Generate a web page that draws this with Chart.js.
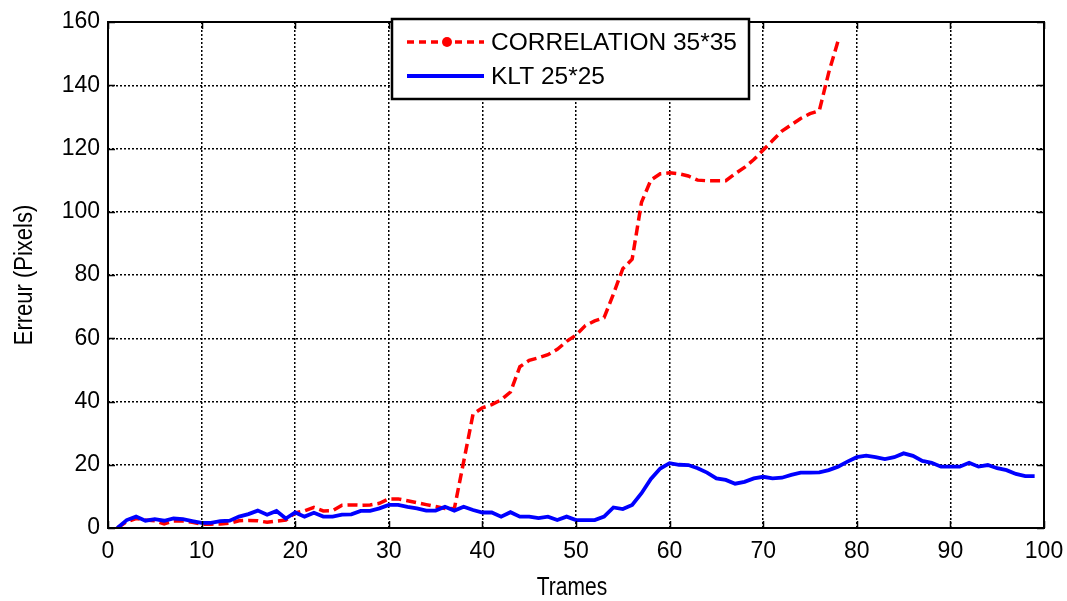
<!DOCTYPE html>
<html>
<head>
<meta charset="utf-8">
<script src="https://cdn.jsdelivr.net/npm/chart.js@4.4.1/dist/chart.umd.min.js"></script>
<style>
  html, body { margin: 0; padding: 0; background: #ffffff; }
  #wrap { width: 1067px; height: 601px; }
</style>
</head>
<body>
<div id="wrap"><canvas id="c" width="1067" height="601"></canvas></div>
<script>
// ---------- DATA ----------
const framesCorrelation = [1,2,3,4,5,6,7,8,9,10,11,12,13,14,15,16,17,18,19,20,
  21,22,23,24,25,26,27,28,29,30,31,32,33,34,35,36,37,38,39,40,
  41,42,43,44,45,46,47,48,49,50,51,52,53,54,55,56,57,58,59,60,
  61,62,63,64,65,66,67,68,69,70,71,72,73,74,75,76,77,78];
const correlationError = [0,2,3,2.5,2.3,1.3,2.2,2.2,1.8,1.2,
  1.2,1.3,1.5,2.3,2.4,2.3,1.8,2.2,2.5,4.8,
  5.4,6.5,5.4,5.5,7.2,7.3,7.2,7.3,7.8,9.2,
  9.2,8.6,8.0,7.4,6.8,6.2,6.1,21,36,38,
  39,40.5,43,51,53,53.8,54.8,56.5,59,61,
  64,65.5,66.5,74,82,85,103,110,112,112.3,
  112,111.3,110,109.8,109.8,109.8,112,114,116.5,119.5,
  122.5,125.5,127.5,129.5,131,132,144,154];

const framesKLT = [1,2,3,4,5,6,7,8,9,10,11,12,13,14,15,16,17,18,19,20,
  21,22,23,24,25,26,27,28,29,30,31,32,33,34,35,36,37,38,39,40,
  41,42,43,44,45,46,47,48,49,50,51,52,53,54,55,56,57,58,59,60,
  61,62,63,64,65,66,67,68,69,70,71,72,73,74,75,76,77,78,79,80,
  81,82,83,84,85,86,87,88,89,90,91,92,93,94,95,96,97,98,99];
const kltError = [0,2.5,3.6,2.3,2.8,2.3,3.0,2.8,2.2,1.6,
  1.6,2.2,2.3,3.6,4.4,5.5,4.2,5.4,3.0,4.9,
  3.6,4.8,3.6,3.6,4.2,4.3,5.4,5.4,6.2,7.3,
  7.3,6.7,6.2,5.5,5.5,6.7,5.5,6.7,5.7,4.9,
  4.9,3.6,5.0,3.6,3.6,3.1,3.6,2.5,3.6,2.5,
  2.5,2.5,3.6,6.5,6.0,7.3,11,15.5,18.8,20.5,
  20,19.9,18.9,17.5,15.7,15.2,14,14.6,15.7,16.2,
  15.7,15.9,16.8,17.5,17.5,17.6,18.3,19.4,21,22.4,
  22.9,22.4,21.8,22.4,23.6,22.8,21.2,20.6,19.4,19.4,
  19.4,20.6,19.4,19.9,18.9,18.3,17.1,16.4,16.4];

const xTickValues = [0,10,20,30,40,50,60,70,80,90,100];
const yTickValues = [0,20,40,60,80,100,120,140,160];
const seriesLabels = ['CORRELATION 35*35', 'KLT 25*25'];
const xAxisTitle = 'Trames';
const yAxisTitle = 'Erreur (Pixels)';

// ---------- CHART ----------
const fam = "'Liberation Sans', Arial, sans-serif";
const tickFont = { family: fam, size: 23 };

const toPoints = (xs, ys) => xs.map((x, i) => ({ x: x, y: ys[i] }));

const framePlugin = {
  id: 'frameAndLegend',
  afterDatasetsDraw(chart, args, opts) {
    const { ctx, chartArea: a, scales } = chart;
    ctx.save();
    ctx.strokeStyle = '#000';
    ctx.lineWidth = 1.5;
    ctx.setLineDash([]);
    const tl = 7;
    ctx.beginPath();
    xTickValues.forEach(v => {
      const px = Math.round(scales.x.getPixelForValue(v)) + 0.5;
      ctx.moveTo(px, a.bottom); ctx.lineTo(px, a.bottom - tl);
      ctx.moveTo(px, a.top); ctx.lineTo(px, a.top + tl);
    });
    yTickValues.forEach(v => {
      const py = Math.round(scales.y.getPixelForValue(v)) + 0.5;
      ctx.moveTo(a.left, py); ctx.lineTo(a.left + tl, py);
      ctx.moveTo(a.right, py); ctx.lineTo(a.right - tl, py);
    });
    ctx.stroke();
    ctx.lineWidth = 2;
    ctx.strokeRect(a.left, a.top, a.right - a.left, a.bottom - a.top);

    // axis titles (condensed look)
    ctx.fillStyle = '#000';
    ctx.font = `25px ${fam}`;
    ctx.textAlign = 'center';
    ctx.textBaseline = 'middle';
    ctx.save();
    ctx.translate(572, 588);
    ctx.scale(0.84, 1.05);
    ctx.fillText(xAxisTitle, 0, 0);
    ctx.restore();
    ctx.save();
    ctx.translate(25, (a.top + a.bottom) / 2);
    ctx.rotate(-Math.PI / 2);
    ctx.scale(0.88, 1.0);
    ctx.fillText(yAxisTitle, 0, 0);
    ctx.restore();

    // legend
    const L = opts.box;
    ctx.fillStyle = '#fff';
    ctx.fillRect(L.x, L.y, L.w, L.h);
    ctx.lineWidth = 2.5;
    ctx.strokeStyle = '#000';
    ctx.strokeRect(L.x, L.y, L.w, L.h);
    const order = [0, 1];
    const rowsY = [L.y + 23, L.y + 57];
    order.forEach((di, r) => {
      const ds = chart.data.datasets[di];
      const y = rowsY[r];
      ctx.save();
      ctx.strokeStyle = ds.borderColor;
      ctx.lineWidth = ds.legendLineWidth;
      ctx.setLineDash(ds.legendDash || []);
      ctx.beginPath();
      ctx.moveTo(L.x + 15, y); ctx.lineTo(L.x + 92, y);
      ctx.stroke();
      if (ds.legendMarker) {
        ctx.fillStyle = ds.borderColor;
        ctx.beginPath();
        ctx.arc(L.x + 55, y, 5, 0, Math.PI * 2);
        ctx.fill();
      }
      ctx.restore();
      ctx.fillStyle = '#000';
      ctx.font = `24.5px ${fam}`;
      ctx.textBaseline = 'middle';
      ctx.textAlign = 'left';
      ctx.fillText(ds.label, L.x + 99, y + 1);
    });
    ctx.restore();
  }
};

new Chart(document.getElementById('c'), {
  type: 'line',
  data: {
    datasets: [
      {
        label: seriesLabels[0],
        data: toPoints(framesCorrelation, correlationError),
        borderColor: 'rgb(255,0,0)',
        borderWidth: 3.5,
        borderDash: [10, 5],
        pointRadius: 0,
        tension: 0,
        fill: false,
        order: 1,
        legendDash: [7, 5],
        legendLineWidth: 3.5,
        legendMarker: true
      },
      {
        label: seriesLabels[1],
        data: toPoints(framesKLT, kltError),
        borderColor: 'rgb(0,0,255)',
        borderWidth: 3.8,
        pointRadius: 0,
        tension: 0,
        fill: false,
        order: 0,
        legendDash: [],
        legendLineWidth: 4,
        legendMarker: false
      }
    ]
  },
  options: {
    responsive: false,
    animation: false,
    events: [],
    layout: { padding: { top: 22, right: 23, left: 0, bottom: 0 } },
    plugins: {
      legend: { display: false },
      tooltip: { enabled: false },
      frameAndLegend: { box: { x: 392, y: 19, w: 357, h: 80 } }
    },
    scales: {
      x: {
        type: 'linear',
        min: 0, max: 100,
        afterBuildTicks: s => { s.ticks = xTickValues.map(v => ({ value: v })); },
        afterFit: s => { s.height = 73; s.paddingLeft = 0; s.paddingRight = 0; },
        ticks: { color: '#000', font: tickFont, padding: 10, maxRotation: 0, autoSkip: false },
        grid: { color: '#000', lineWidth: 1.5, drawTicks: false },
        border: { display: false, dash: [2, 2] },
        title: { display: false }
      },
      y: {
        type: 'linear',
        min: 0, max: 160,
        afterBuildTicks: s => { s.ticks = yTickValues.map(v => ({ value: v })); },
        afterFit: s => { s.width = 108; s.paddingTop = 0; s.paddingBottom = 0; },
        ticks: { color: '#000', font: tickFont, padding: 8, autoSkip: false },
        grid: { color: '#000', lineWidth: 1.5, drawTicks: false },
        border: { display: false, dash: [2, 2] },
        title: { display: false }
      }
    }
  },
  plugins: [framePlugin]
});
</script>
</body>
</html>
